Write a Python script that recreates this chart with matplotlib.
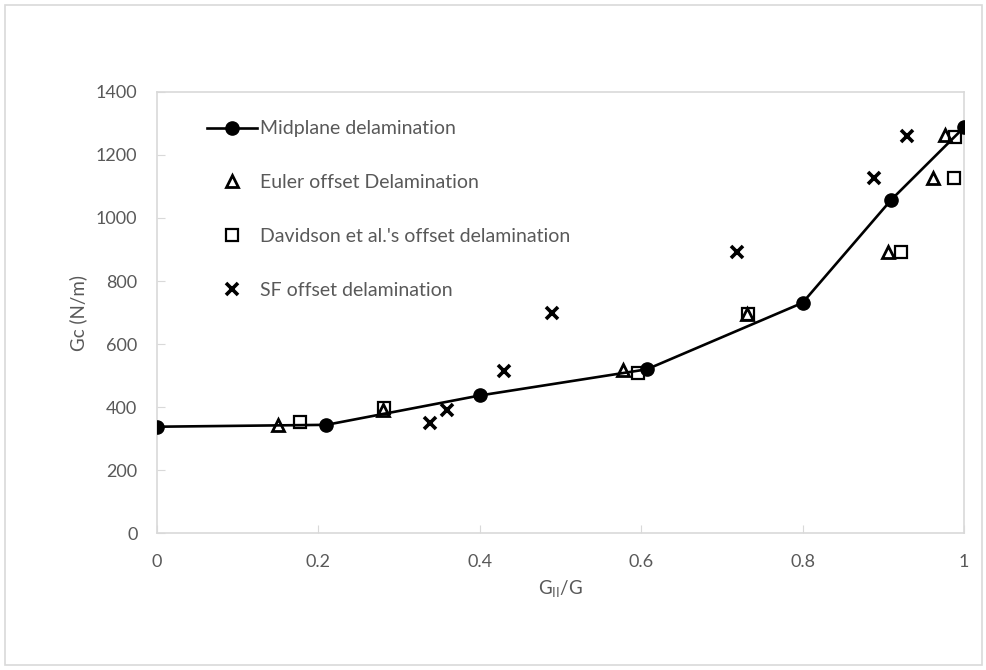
import matplotlib.pyplot as plt
from matplotlib.patches import Rectangle

plt.rcParams['font.family'] = ['Lato', 'DejaVu Sans']

## Data
mid_x = [0, 0.21, 0.40, 0.607, 0.80, 0.91, 1.0]
mid_y = [338, 344, 437, 520, 731, 1058, 1287]

euler_x = [0.15, 0.28, 0.578, 0.731, 0.906, 0.962, 0.976]
euler_y = [344, 391, 518, 697, 892, 1127, 1262]

dav_x = [0.177, 0.281, 0.596, 0.732, 0.922, 0.988, 0.989]
dav_y = [354, 396, 509, 697, 892, 1127, 1258]

sf_x = [0.338, 0.36, 0.43, 0.489, 0.719, 0.889, 0.929]
sf_y = [351, 391, 516, 698, 892, 1127, 1261]

labels = ['Midplane delamination', 'Euler offset Delamination',
          "Davidson et al.'s offset delamination", 'SF offset delamination']

gray = '#d9d9d9'
txt = '#595959'

fig = plt.figure(figsize=(9.87, 6.70), dpi=100)
ax = fig.add_axes([0.159, 0.204, 0.8177, 0.659])

ax.plot(mid_x, mid_y, '-o', color='black', lw=1.9, ms=9.5, label=labels[0], zorder=3)
ax.plot(euler_x, euler_y, '^', ls='none', mfc='none', mec='black', mew=2, ms=8.5,
        label=labels[1], zorder=4)
ax.plot(dav_x, dav_y, 's', ls='none', mfc='none', mec='black', mew=1.6, ms=9,
        label=labels[2], zorder=4)
ax.plot(sf_x, sf_y, 'x', ls='none', color='black', mew=2.6, ms=9,
        label=labels[3], zorder=4)

ax.set_xlim(0, 1)
ax.set_ylim(0, 1400)
ax.set_xticks([0, 0.2, 0.4, 0.6, 0.8, 1])
ax.set_xticklabels(['0', '0.2', '0.4', '0.6', '0.8', '1'])
ax.set_yticks(range(0, 1401, 200))

for s in ax.spines.values():
    s.set_color(gray)
    s.set_linewidth(1.2)
ax.tick_params(direction='in', length=6, color=gray, labelsize=13, labelcolor=txt)
ax.tick_params(axis='x', pad=15)
ax.tick_params(axis='y', pad=14)

ax.set_xlabel(r'G$_{\mathregular{II}}$/G', fontsize=13.5, color=txt, labelpad=6)
ax.set_ylabel('Gc (N/m)', fontsize=13.5, color=txt, labelpad=6)

leg = ax.legend(loc='upper left', bbox_to_anchor=(0.04, 0.975), frameon=False,
                fontsize=14, labelspacing=1.9, handlelength=2.6,
                handletextpad=0.15, labelcolor=txt)

# outer chart border
fig.patches.append(Rectangle((0.005, 0.008), 0.99, 0.985, transform=fig.transFigure,
                             fill=False, edgecolor=gray, lw=1.2))

fig.savefig('out.png', dpi=100)
